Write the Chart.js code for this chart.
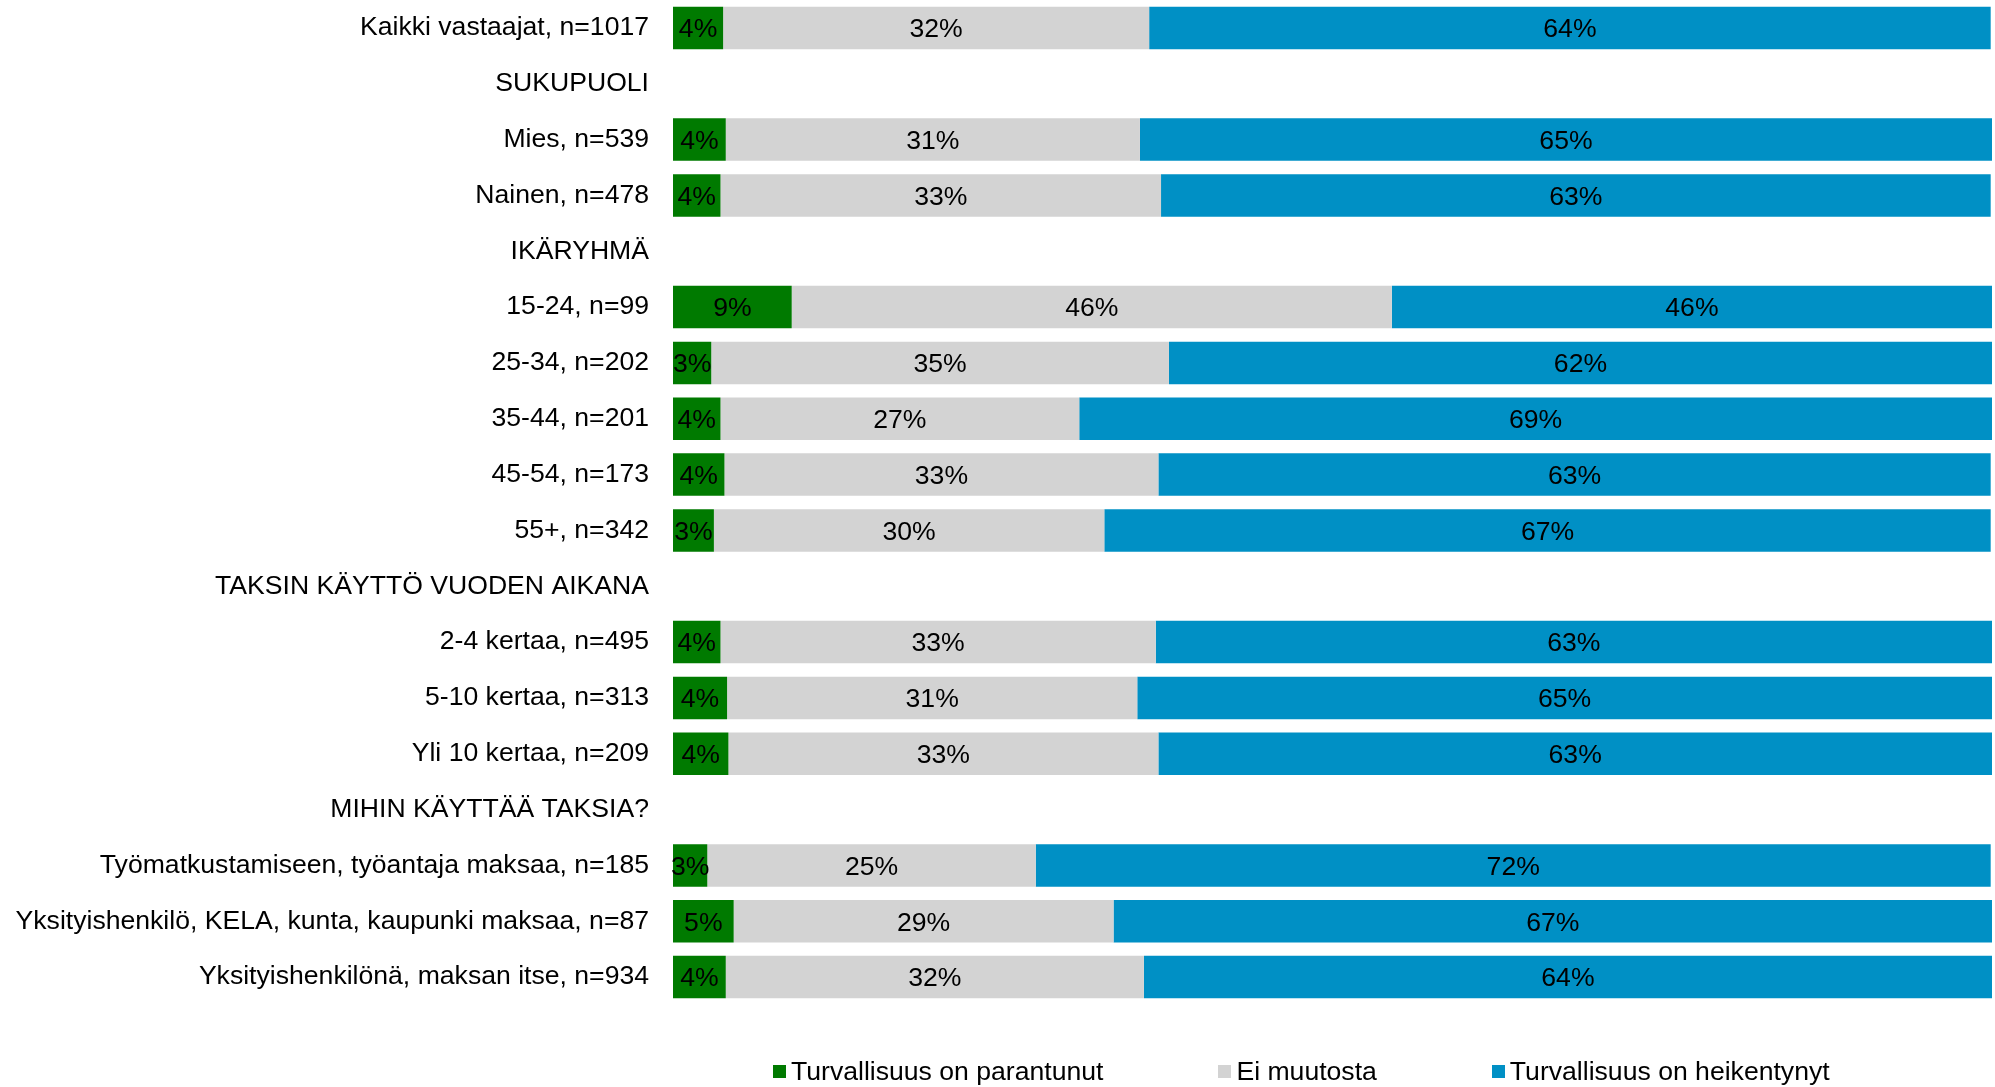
<!DOCTYPE html>
<html>
<head>
<meta charset="utf-8">
<script src="https://cdn.jsdelivr.net/npm/chart.js@4.4.0/dist/chart.umd.min.js"></script>
<style>
  body { margin: 0; background: #fff; font-family: "Liberation Sans", Arial, sans-serif; }
  #wrap { position: relative; width: 1995px; height: 1087px; }
  #legend { position: absolute; left: 773px; top: 1055px; display: flex; font-size: 26.6px; color: #000; line-height: 32px; }
  #legend .item { display: flex; align-items: center; margin-right: 115px; white-space: nowrap; }
  #legend .box { width: 13px; height: 13px; margin-right: 5px; }
</style>
</head>
<body>
<div id="wrap">
  <canvas id="taxiChart"></canvas>
  <div id="legend"></div>
</div>
<script>
var categories = [
  "Kaikki vastaajat, n=1017",
  "SUKUPUOLI",
  "Mies, n=539",
  "Nainen, n=478",
  "IKÄRYHMÄ",
  "15-24, n=99",
  "25-34, n=202",
  "35-44, n=201",
  "45-54, n=173",
  "55+, n=342",
  "TAKSIN KÄYTTÖ VUODEN AIKANA",
  "2-4 kertaa, n=495",
  "5-10 kertaa, n=313",
  "Yli 10 kertaa, n=209",
  "MIHIN KÄYTTÄÄ TAKSIA?",
  "Työmatkustamiseen, työantaja maksaa, n=185",
  "Yksityishenkilö, KELA, kunta, kaupunki maksaa, n=87",
  "Yksityishenkilönä, maksan itse, n=934"
];

var seriesNames = ["Turvallisuus on parantunut", "Ei muutosta", "Turvallisuus on heikentynyt"];

// % of answers, header rows are null
var improved = [3.8, null, 4.0, 3.6, null, 9.0, 2.9, 3.6, 3.9, 3.1, null, 3.6, 4.1, 4.2, null, 2.6, 4.6, 4.0];
var noChange = [32.3, null, 31.4, 33.4, null, 45.5, 34.7, 27.2, 32.9, 29.6, null, 33.0, 31.1, 32.6, null, 24.9, 28.8, 31.7];
var weakened = [63.8, null, 64.6, 62.9, null, 45.5, 62.4, 69.2, 63.1, 67.2, null, 63.4, 64.8, 63.2, null, 72.4, 66.6, 64.3];

var colors = ["#007A00", "#D3D3D3", "#0090C5"];

var fontFamily = '"Liberation Sans", Arial, sans-serif';
var fontSize = 26.6;

// percent labels in the middle of each segment
var barLabels = {
  id: 'barLabels',
  afterDatasetsDraw: function(chart) {
    var ctx = chart.ctx;
    ctx.save();
    ctx.font = fontSize + 'px ' + fontFamily;
    ctx.fillStyle = '#000';
    ctx.textAlign = 'center';
    ctx.textBaseline = 'middle';
    chart.data.datasets.forEach(function(ds, i) {
      chart.getDatasetMeta(i).data.forEach(function(bar, j) {
        var v = ds.data[j];
        if (v === null || v === undefined) return;
        var p = bar.getCenterPoint();
        ctx.fillText(Math.round(v) + '%', p.x, p.y + 2);
      });
    });
    ctx.restore();
  }
};

// html legend under the bars
var htmlLegend = {
  id: 'htmlLegend',
  afterUpdate: function(chart) {
    var box = document.getElementById('legend');
    box.innerHTML = '';
    chart.data.datasets.forEach(function(ds) {
      var item = document.createElement('div');
      item.className = 'item';
      var sw = document.createElement('span');
      sw.className = 'box';
      sw.style.background = ds.backgroundColor;
      var txt = document.createElement('span');
      txt.textContent = ds.label;
      item.appendChild(sw);
      item.appendChild(txt);
      box.appendChild(item);
    });
  }
};

function makeDataset(i, values) {
  return {
    label: seriesNames[i],
    data: values,
    backgroundColor: colors[i],
    borderWidth: 0,
    barPercentage: 0.76,
    categoryPercentage: 1
  };
}

var ctx = document.getElementById("taxiChart").getContext("2d");
var taxiChart = new Chart(ctx, {
  type: 'bar',
  data: {
    labels: categories,
    datasets: [
      makeDataset(0, improved),
      makeDataset(1, noChange),
      makeDataset(2, weakened)
    ]
  },
  options: {
    indexAxis: 'y',
    responsive: true,
    maintainAspectRatio: false,
    animation: false,
    layout: {
      padding: { top: -3, bottom: 82, right: 3, left: 0 }
    },
    plugins: {
      legend: { display: false },
      tooltip: { enabled: false }
    },
    scales: {
      x: {
        stacked: true,
        min: 0,
        max: 100,
        display: false
      },
      y: {
        stacked: true,
        grid: { display: false, drawTicks: true, tickLength: 24 },
        border: { display: false },
        afterFit: function(scale) {
          scale.width = 673;
          scale.paddingTop = -3;
          scale.paddingBottom = -3;
        },
        ticks: {
          padding: 0,
          color: '#000',
          autoSkip: false,
          font: { size: fontSize, family: fontFamily }
        }
      }
    }
  },
  plugins: [barLabels, htmlLegend]
});
</script>
</body>
</html>
